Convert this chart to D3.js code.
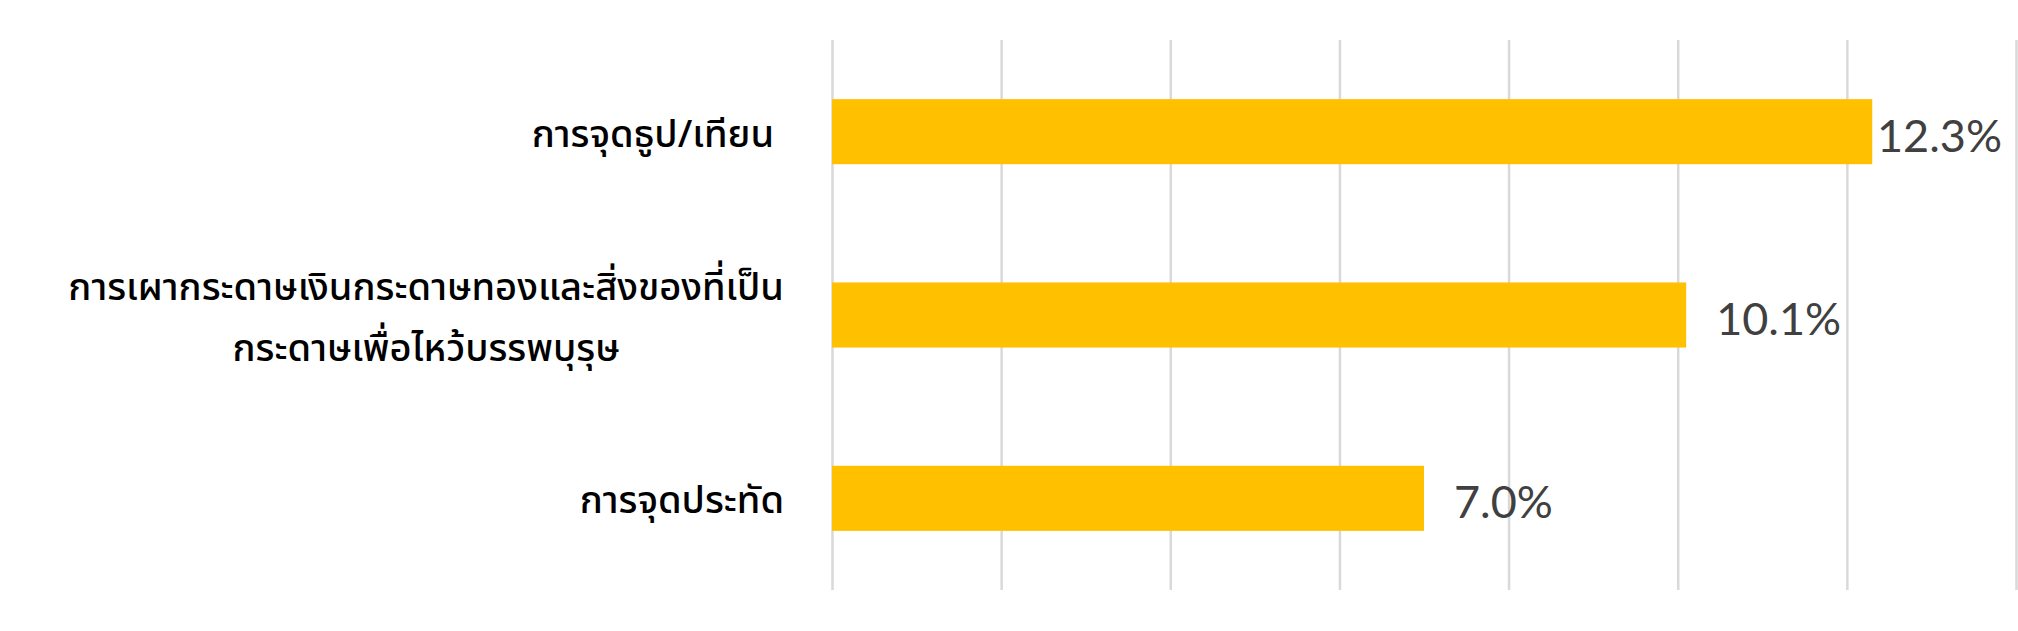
<!DOCTYPE html>
<html>
<head>
<meta charset="utf-8">
<script src="https://cdn.jsdelivr.net/npm/d3@7"></script>
<style>
  body { margin: 0; background: #fff; }
  svg { display: block; }
</style>
</head>
<body>
<svg id="chart"></svg>
<script>
// data
const categories = [
  ["การจุดธูป/เทียน "],
  ["การเผากระดาษเงินกระดาษทองและสิ่งของที่เป็น", "กระดาษเพื่อไหว้บรรพบุรุษ"],
  ["การจุดประทัด"]
]
const values = [12.3, 10.1, 7.0]
const gridTicks = [0, 2, 4, 6, 8, 10, 12, 14]

const width = 2018, height = 631
const svg = d3.select("#chart").attr("width", width).attr("height", height)

const keys = categories.map((c, i) => "c" + i)

let x = d3.scaleLinear().domain([0, 14]).range([832, 2016])
let y = d3.scaleBand().domain(keys).range([40, 590])
    .paddingInner(0.645).paddingOuter(0.3225)

// vertical gridlines
const grid = svg.append("g")
    .attr("transform", `translate(0, 590)`)
    .call(d3.axisBottom(x).tickValues(gridTicks).tickSize(-550).tickFormat(""))
grid.select(".domain").remove()
grid.selectAll(".tick line").attr("stroke", "#d9d9d9").attr("stroke-width", 2.5)

// bars
svg.append("g").selectAll("rect")
    .data(values)
    .join("rect")
    .attr("x", x(0))
    .attr("y", (d, i) => y(keys[i]))
    .attr("width", d => x(d) - x(0))
    .attr("height", y.bandwidth())
    .attr("fill", "#ffc000")

// value labels
svg.append("g").selectAll("text")
    .data(values)
    .join("text")
    .attr("y", (d, i) => y(keys[i]) + y.bandwidth() / 2 + 20)
    .attr("font-family", "Lato, 'Open Sans', sans-serif")
    .attr("font-size", 45)
    .attr("fill", "#404040")
    .text(d => d.toFixed(1) + "%")
    .each(function(d) {
        let w = this.getComputedTextLength()
        let px = Math.min(x(d) + 30, 2002 - w)
        d3.select(this).attr("x", px)
    })

// category labels, right aligned block, lines centred inside it
const labelRight = 784
const lineGap = 61
categories.forEach((lines, i) => {
    let cy = y(keys[i]) + y.bandwidth() / 2
    let t = svg.append("text")
        .attr("font-family", "'Noto Sans Thai', 'Noto Sans', Tahoma, sans-serif")
        .attr("font-size", 38)
        .attr("font-weight", 500)
        .attr("fill", "#000")
        .style("white-space", "pre")
        .attr("text-anchor", "middle")
    let y0 = cy + 15 - (lines.length - 1) * lineGap / 2
    lines.forEach((s, j) => {
        t.append("tspan").attr("x", 0).attr("y", y0 + j * lineGap).text(s)
    })
    let w = t.node().getBBox().width
    t.selectAll("tspan").attr("x", labelRight - w / 2)
})
</script>
</body>
</html>
